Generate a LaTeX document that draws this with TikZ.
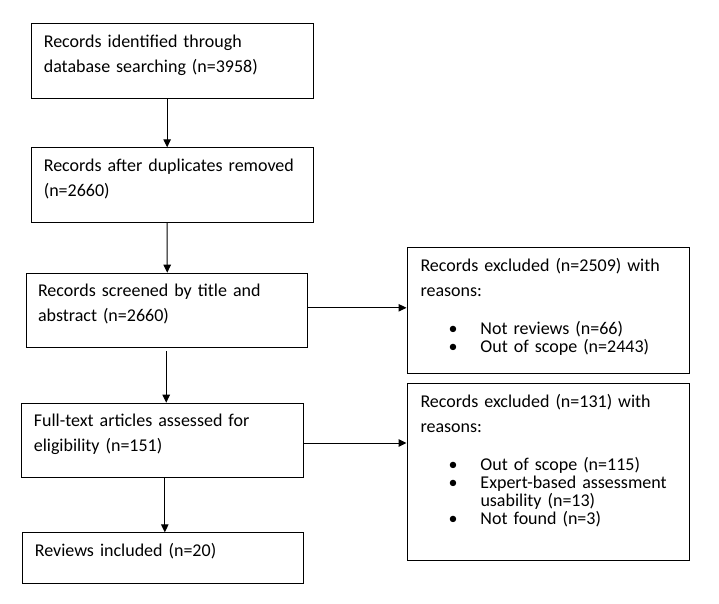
\documentclass[tikz,border=0pt]{standalone}
\usepackage{fontspec}
\setmainfont{Carlito}
\usetikzlibrary{arrows.meta,positioning}
\newcommand{\reasonitem}[1]{\hspace*{32.7pt}\makebox[0pt]{\textbullet}\hspace*{27.3pt}#1}

\begin{document}
\begin{tikzpicture}[x=1pt, y=-1pt,
    box/.style={draw, line width=1pt, anchor=north west, inner xsep=12pt, inner ysep=0pt,
        align=left, text height=23.5pt, font=\fontsize{18pt}{25pt}\selectfont},
    exclbox/.style={box, inner xsep=13.5pt, text width=255.8pt},
    arr/.style={line width=1pt, -{Triangle[length=8pt, width=7.5pt]}}]
    \useasboundingbox (0,0) rectangle (719,604);

    \node[box, text width=257.7pt, text depth=51.5pt] (ident) at (31.3,23.3)
        {Records identified through\\database searching (n=3958)};
    \node[box, text width=257.7pt, text depth=51.2pt] (dedup) at (31.3,147.3)
        {Records after duplicates removed\\(n=2660)};
    \node[box, text width=257pt, text depth=51.1pt] (screen) at (25.5,272.7)
        {Records screened by title and\\abstract (n=2660)};
    \node[box, text width=258pt, text depth=51.1pt] (full) at (21.3,402.7)
        {Full-text articles assessed for\\eligibility (n=151)};
    \node[box, text width=257pt, text depth=27.5pt] (incl) at (22.3,532.3)
        {Reviews included (n=20)};

    \node[exclbox, text depth=101.9pt] (exclA) at (406.5,247.3)
        {Records excluded (n=2509) with\\reasons:\\[13pt]
         \reasonitem{Not reviews (n=66)}\\[-6.9pt]
         \reasonitem{Out of scope (n=2443)}};
    \node[exclbox, text depth=152.9pt] (exclB) at (406.5,383.3)
        {Records excluded (n=131) with\\reasons:\\[13pt]
         \reasonitem{Out of scope (n=115)}\\[-6.8pt]
         \reasonitem{Expert-based assessment}\\[-6.8pt]
         \hspace*{60pt}usability (n=13)\\[-6.8pt]
         \reasonitem{Not found (n=3)}};

    \draw[arr] ([xshift=-5.5pt]ident.south) -- ([xshift=-5.5pt]dedup.north);
    \draw[arr] ([xshift=-5.5pt]dedup.south) -- ([xshift=0.7pt]screen.north);
    \draw[arr, shorten <=3pt] ([xshift=-0.3pt]screen.south) -- ([xshift=3.4pt]full.north);
    \draw[arr] ([xshift=2pt]full.south) -- ([xshift=1.5pt]incl.north);
    \draw[arr] ([yshift=2.7pt]screen.east) -- ([yshift=2.7pt]exclA.west);
    \draw[arr] ([yshift=-2.5pt]full.east) -- ([yshift=29pt]exclB.west);
\end{tikzpicture}
\end{document}
